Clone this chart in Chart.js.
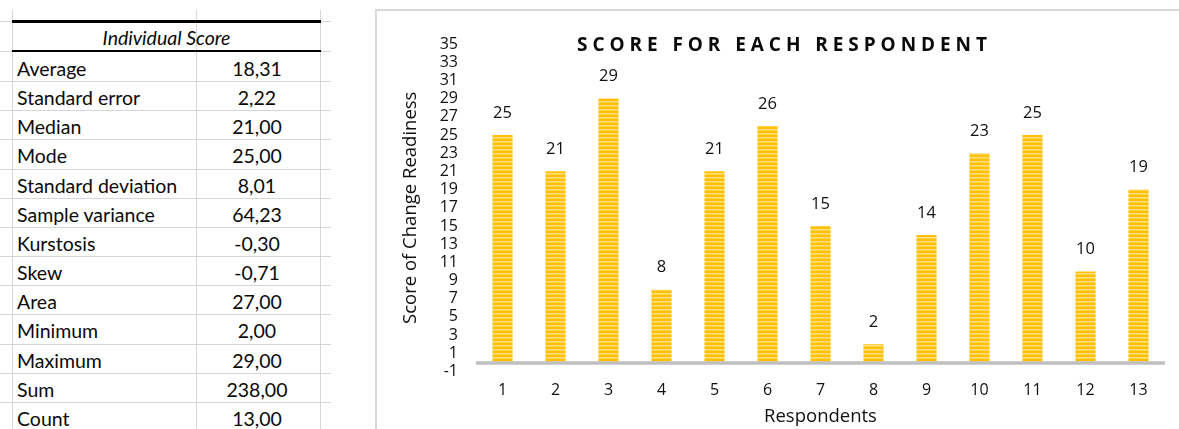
<!DOCTYPE html>
<html>
<head>
<meta charset="utf-8">
<script src="https://cdn.jsdelivr.net/npm/chart.js@4.4.0/dist/chart.umd.min.js"></script>
<style>
  html, body { margin:0; padding:0; background:#fff; width:1179px; height:429px; overflow:hidden; position:relative; }
  .gl { position:absolute; background:#d6d6d6; }
  .bl { position:absolute; background:#000; }
  .cell { position:absolute; font-family: Lato, "Liberation Sans", sans-serif; font-size:19.5px; color:#0a0a0a; white-space:nowrap; }
  #frame { position:absolute; left:375px; top:9px; width:830px; height:440px; border:2px solid #d9d9d9; box-sizing:border-box; }
  #chartBox { position:absolute; left:377px; top:11px; width:802px; height:418px; }
</style>
</head>
<body>
<div id="table"></div>
<div id="frame"></div>
<div id="chartBox"><canvas id="c" width="802" height="418"></canvas></div>
<script>
// ---- Data ----
const statHeader = 'Individual Score';
const statLabels = ['Average','Standard error','Median','Mode','Standard deviation','Sample variance','Kurstosis','Skew','Area','Minimum','Maximum','Sum','Count'];
const statValues = ['18,31','2,22','21,00','25,00','8,01','64,23','-0,30','-0,71','27,00','2,00','29,00','238,00','13,00'];

const chartTitle = 'SCORE FOR EACH RESPONDENT';
const respondents = ['1','2','3','4','5','6','7','8','9','10','11','12','13'];
const scores = [25,21,29,8,21,26,15,2,14,23,25,10,19];
const yMin = -1, yMax = 35, yStep = 2;
const yTitle = 'Score of Change Readiness';
const xTitle = 'Respondents';

// ---- Table (spreadsheet) ----
(function buildTable(){
  const t = document.getElementById('table');
  const add = (cls, css, text) => { const d = document.createElement('div'); d.className = cls; Object.assign(d.style, css); if (text !== undefined) d.textContent = text; t.appendChild(d); return d; };
  const rowTop0 = 52, rowH = 29.15;
  [12, 196, 320].forEach(x => add('gl', {left:x+'px', top:'10px', width:'1px', height:'420px'}));
  for (let i = 1; i <= statLabels.length; i++) {
    const y = Math.round(rowTop0 + rowH * i);
    add('gl', {left:'0px', top:y+'px', width:'331px', height:'1px'});
  }
  add('gl', {left:'0px', top:'51px', width:'331px', height:'1px'});
  add('gl', {left:'0px', top:'21px', width:'331px', height:'1px'});
  add('bl', {left:'12px', top:'20px', width:'309px', height:'3px'});
  add('bl', {left:'12px', top:'50px', width:'309px', height:'2px'});
  add('cell', {left:'12px', top:'23px', width:'309px', height:'28px', lineHeight:'30px', textAlign:'center', fontStyle:'italic'}, statHeader);
  statLabels.forEach((lab, i) => {
    const top = rowTop0 + rowH * i;
    add('cell', {left:'17px', top:(top+1)+'px', height:'29px', lineHeight:'31px'}, lab);
    add('cell', {left:'197px', top:(top+1)+'px', width:'120px', height:'29px', lineHeight:'31px', textAlign:'center'}, statValues[i]);
  });
})();

// ---- Chart ----
function stripePattern(ctx){
  const c = document.createElement('canvas');
  c.width = 4; c.height = 4;
  const g = c.getContext('2d');
  g.fillStyle = '#FFC000'; g.fillRect(0,0,4,4);
  g.fillStyle = '#FFDF85'; g.fillRect(0,2,4,1);
  g.fillStyle = '#FFD04A'; g.fillRect(0,3,4,1);
  return ctx.createPattern(c, 'repeat');
}

const chartFont = '"Open Sans", "DejaVu Sans", sans-serif';
const textColor = '#111';

const zeroLine = {
  id: 'zeroLine',
  afterDatasetsDraw(chart) {
    const {ctx, chartArea, scales:{y}} = chart;
    const py = y.getPixelForValue(0);
    ctx.save();
    ctx.strokeStyle = '#bfbfbf';
    ctx.lineWidth = 3.5;
    ctx.beginPath();
    ctx.moveTo(chartArea.left, py + 0.5);
    ctx.lineTo(chartArea.right, py + 0.5);
    ctx.stroke();
    ctx.restore();
  }
};

const valueLabels = {
  id: 'valueLabels',
  afterDatasetsDraw(chart) {
    const {ctx} = chart;
    const meta = chart.getDatasetMeta(0);
    ctx.save();
    ctx.font = '16.5px ' + chartFont;
    ctx.fillStyle = textColor;
    ctx.textAlign = 'center';
    ctx.textBaseline = 'middle';
    meta.data.forEach((bar, i) => {
      ctx.fillText(String(chart.data.datasets[0].data[i]), bar.x, bar.y - 22);
    });
    ctx.restore();
  }
};

const spacedTitle = {
  id: 'spacedTitle',
  afterDraw(chart, args, opts) {
    const {ctx} = chart;
    ctx.save();
    ctx.font = 'bold 19px ' + chartFont;
    ctx.fillStyle = '#0a0a0a';
    ctx.textBaseline = 'middle';
    ctx.textAlign = 'left';
    const chars = [...opts.text];
    const widths = chars.map(ch => ctx.measureText(ch).width);
    const sum = widths.reduce((a,b)=>a+b,0);
    const spacing = (opts.width - sum) / (chars.length - 1);
    let x = opts.centerX - opts.width / 2;
    chars.forEach((ch, i) => { ctx.fillText(ch, x, opts.y); x += widths[i] + spacing; });
    ctx.restore();
  }
};

const ctx = document.getElementById('c').getContext('2d');
new Chart(ctx, {
  type: 'bar',
  data: {
    labels: respondents,
    datasets: [{
      data: scores,
      backgroundColor: stripePattern(ctx),
      borderWidth: 0,
      barPercentage: 0.38,
      categoryPercentage: 1.0
    }]
  },
  options: {
    responsive: false,
    animation: false,
    events: [],
    layout: { padding: { top: 33, right: 14, left: 0, bottom: 0 } },
    plugins: {
      legend: { display: false },
      tooltip: { enabled: false },
      title: { display: false },
      spacedTitle: { text: chartTitle, centerX: 405, y: 34.5, width: 410 }
    },
    scales: {
      x: {
        grid: { display: false, drawTicks: false },
        border: { display: false },
        ticks: { color: textColor, font: { family: chartFont, size: 16 }, padding: 9, maxRotation: 0 },
        title: { display: true, text: xTitle, color: textColor, font: { family: chartFont, size: 18.5 }, padding: { top: 0, bottom: 0.9 } },
        afterFit(scale) { scale.height = 57.5; }
      },
      y: {
        min: yMin, max: yMax,
        grid: { display: false, drawTicks: false },
        border: { display: false },
        ticks: { stepSize: yStep, autoSkip: false, color: textColor, font: { family: chartFont, size: 16 }, padding: 18 },
        title: { display: true, text: yTitle, color: textColor, font: { family: chartFont, size: 18.5 }, padding: { top: 22.9, bottom: 0 } },
        afterFit(scale) { scale.width = 99; }
      }
    }
  },
  plugins: [zeroLine, valueLabels, spacedTitle]
});
</script>
</body>
</html>
